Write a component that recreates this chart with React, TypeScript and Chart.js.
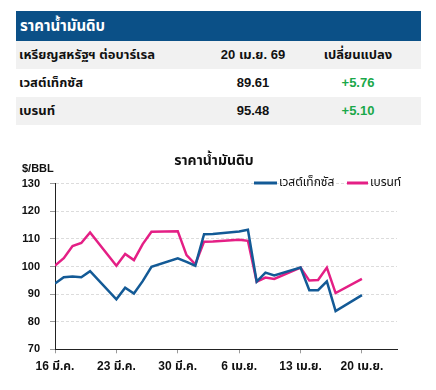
import React, { useEffect, useRef } from "react";
import { Chart, registerables } from "chart.js";

Chart.register(...registerables);

// ---- data ----
const startLabel = "16 มี.ค.";
const dayOffsets = [0, 1, 2, 3, 4, 7, 8, 9, 10, 11, 14, 15, 16, 17, 18, 21, 22, 23, 24, 25, 28, 29, 30, 31, 32, 35];
const wtiValues = [93.8, 96.1, 96.4, 96.1, 98.3, 88.1, 92.3, 90.2, 94.7, 99.9, 103.0, 101.7, 100.3, 111.7, 111.8, 112.7, 113.3, 94.5, 97.8, 96.8, 99.6, 91.4, 91.4, 94.6, 83.85, 89.61];
const brentValues = [100.3, 103.0, 107.4, 108.5, 112.3, 100.3, 104.5, 102.3, 108.1, 112.6, 112.8, 104.1, 100.8, 109.0, 109.1, 109.7, 109.3, 94.5, 96.0, 95.5, 99.6, 94.9, 95.1, 99.6, 90.38, 95.48];
const xTickDays = [0, 7, 14, 21, 28, 35];
const xTickLabels = [startLabel, "23 มี.ค.", "30 มี.ค.", "6 เม.ย.", "13 เม.ย.", "20 เม.ย."];
const xMaxDay = 39;
const yTicks = [70, 80, 90, 100, 110, 120, 130];
const seriesNames = ["เวสต์เท็กซัส", "เบรนท์"];

const tableTitle = "ราคาน้ำมันดิบ";
const tableHeader = ["เหรียญสหรัฐฯ ต่อบาร์เรล", "20 เม.ย. 69", "เปลี่ยนแปลง"];
const tablePrices = ["89.61", "95.48"];
const tableChanges = ["+5.76", "+5.10"];

const chartTitle = "ราคาน้ำมันดิบ";
const unitLabel = "$/BBL";

const FONT = '"Liberation Sans", "Noto Sans Thai", "Loma", "Tlwg Typo", "Garuda", "Noto Sans", sans-serif';
const BLUE = "#135a96";
const PINK = "#e41f85";

const overlayPlugin = {
  id: "overlay",
  afterDraw(chart: any) {
    const ctx = chart.ctx;
    ctx.save();
    ctx.fillStyle = "#111";
    ctx.font = `bold 14px ${FONT}`;
    ctx.textAlign = "center";
    ctx.textBaseline = "middle";
    ctx.fillText(chartTitle, 214, 21);
    ctx.font = `bold 11px ${FONT}`;
    ctx.textAlign = "left";
    ctx.fillText(unitLabel, 22, 29);
    // legend
    const items = [
      { x0: 254, x1: 277, tx: 279 },
      { x0: 347, x1: 368, tx: 370 },
    ];
    chart.data.datasets.forEach((ds: any, i: number) => {
      const it = items[i];
      ctx.strokeStyle = ds.borderColor;
      ctx.lineWidth = 3;
      ctx.beginPath();
      ctx.moveTo(it.x0, 43);
      ctx.lineTo(it.x1, 43);
      ctx.stroke();
      ctx.fillStyle = "#111";
      ctx.font = `12px ${FONT}`;
      ctx.textAlign = "left";
      ctx.fillText(ds.label, it.tx, 43);
    });
    ctx.restore();
  },
};

function OilChart() {
  const ref = useRef<HTMLCanvasElement | null>(null);
  useEffect(() => {
    if (!ref.current) return;
    const chart = new Chart(ref.current, {
      type: "line",
      data: {
        datasets: [
          {
            label: seriesNames[0],
            data: dayOffsets.map((d, i) => ({ x: d, y: wtiValues[i] })),
            borderColor: BLUE,
            backgroundColor: BLUE,
            borderWidth: 2.5,
            pointRadius: 0,
            tension: 0,
          },
          {
            label: seriesNames[1],
            data: dayOffsets.map((d, i) => ({ x: d, y: brentValues[i] })),
            borderColor: PINK,
            backgroundColor: PINK,
            borderWidth: 2.5,
            pointRadius: 0,
            tension: 0,
          },
        ],
      },
      options: {
        animation: false,
        responsive: false,
        maintainAspectRatio: false,
        layout: { padding: { top: 43.7, right: 39, left: 0, bottom: 0 } },
        plugins: {
          legend: { display: false },
          title: { display: false },
          tooltip: { enabled: false },
        },
        scales: {
          x: {
            type: "linear",
            min: 0,
            max: xMaxDay,
            afterBuildTicks: (scale: any) => {
              scale.ticks = xTickDays.map((v) => ({ value: v }));
            },
            afterFit: (scale: any) => {
              scale.height = 40.7;
            },
            grid: {
              drawOnChartArea: false,
              drawTicks: true,
              tickLength: 4,
              tickColor: "#999",
            },
            border: { color: "#222", width: 1 },
            ticks: {
              autoSkip: false,
              maxRotation: 0,
              padding: 6,
              color: "#111",
              font: { family: FONT, size: 12, weight: "bold" },
              callback: (v: any) => {
                const idx = xTickDays.indexOf(Number(v));
                return idx >= 0 ? xTickLabels[idx] : "";
              },
            },
          },
          y: {
            min: 70,
            max: 130,
            afterBuildTicks: (scale: any) => {
              scale.ticks = yTicks.map((v) => ({ value: v }));
            },
            afterFit: (scale: any) => {
              scale.width = 55;
            },
            grid: {
              color: "#dcdcdc",
              tickColor: "#999",
              tickLength: 5,
              drawTicks: true,
            },
            border: { color: "#222", width: 1, dash: [3, 2] },
            ticks: {
              padding: 10,
              color: "#111",
              font: { family: FONT, size: 11, weight: "bold" },
            },
          },
        },
      },
      plugins: [overlayPlugin],
    } as any);
    return () => chart.destroy();
  }, []);
  return <canvas ref={ref} width={436} height={250} style={{ position: "absolute", left: 0, top: 140, width: 436, height: 250 }} />;
}

export default function App() {
  const rowStyle = (bg: string, top: number): React.CSSProperties => ({
    position: "absolute",
    left: 16,
    top,
    width: 405,
    height: 28,
    background: bg,
    fontFamily: FONT,
    fontWeight: "bold",
    fontSize: 13,
    color: "#111",
  });
  const cell = (left: number, text: string, color = "#111", align: "left" | "center" = "center", width = 100) => (
    <span style={{ position: "absolute", left, top: 0, width, lineHeight: "28px", textAlign: align, color, whiteSpace: "nowrap" }}>{text}</span>
  );
  return (
    <div style={{ position: "absolute", left: 0, top: 0, width: 436, height: 390, background: "#fff", overflow: "hidden" }}>
      <div style={{ position: "absolute", left: 16, top: 11, width: 405, height: 30, background: "#0b5087", color: "#fff", fontFamily: FONT, fontWeight: "bold", fontSize: 15, lineHeight: "30px", paddingLeft: 4, boxSizing: "border-box" }}>
        {tableTitle}
      </div>
      <div style={rowStyle("#f1f1f1", 41)}>
        {cell(3, tableHeader[0], "#111", "left", 200)}
        {cell(187, tableHeader[1])}
        {cell(292, tableHeader[2])}
      </div>
      <div style={rowStyle("#ffffff", 69)}>
        {cell(3, seriesNames[0], "#111", "left", 200)}
        {cell(187, tablePrices[0])}
        {cell(292, tableChanges[0], "#1aa84a")}
      </div>
      <div style={rowStyle("#f1f1f1", 97)}>
        {cell(3, seriesNames[1], "#111", "left", 200)}
        {cell(187, tablePrices[1])}
        {cell(292, tableChanges[1], "#1aa84a")}
      </div>
      <OilChart />
    </div>
  );
}
